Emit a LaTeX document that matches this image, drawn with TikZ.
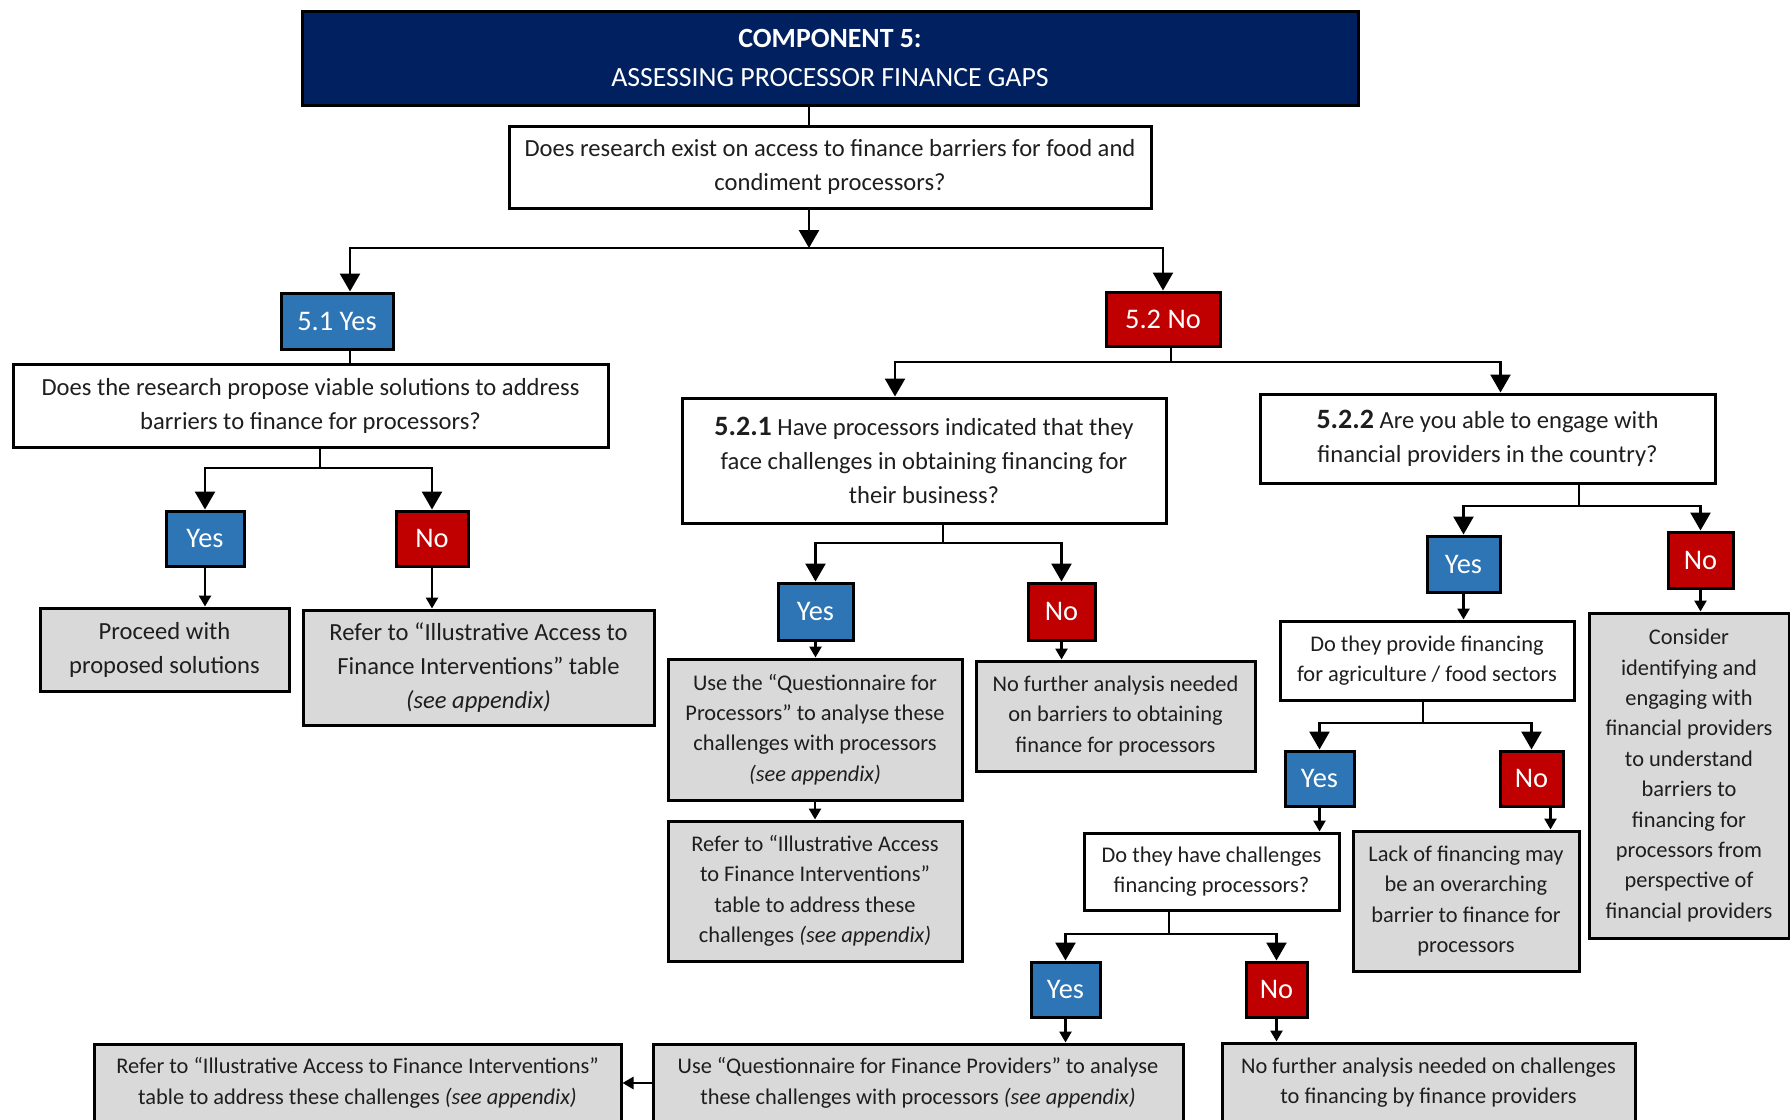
\documentclass[tikz,border=0pt]{standalone}
\usepackage{fontspec}
\setmainfont{Carlito}
\usetikzlibrary{arrows.meta,positioning,calc}
\definecolor{compnavy}{RGB}{0,32,96}
\definecolor{yesblue}{RGB}{46,117,182}
\definecolor{nored}{RGB}{192,0,0}
\definecolor{actgray}{RGB}{217,217,217}
\definecolor{txtdark}{RGB}{30,30,30}

\begin{document}
\begin{tikzpicture}[x=0.5pt, y=-0.5pt,
hdr/.style={draw=black, line width=1.5pt, fill=compnavy, text=white, inner sep=0pt,
align=center, font=\fontsize{13.9}{19.5}\selectfont},
qst/.style={draw=black, line width=1.5pt, fill=white, text=txtdark, inner sep=0pt,
align=center, font=\fontsize{12.3}{17}\selectfont},
qsts/.style={qst, font=\fontsize{11.2}{15.2}\selectfont},
act/.style={draw=black, line width=1.5pt, fill=actgray, text=txtdark, inner sep=0pt,
align=center, font=\fontsize{11.2}{15.2}\selectfont},
actl/.style={act, font=\fontsize{12.3}{17}\selectfont},
yesbox/.style={draw=black, line width=1.5pt, fill=yesblue, text=white, inner sep=0pt,
font=\fontsize{14.2}{16}\selectfont},
nobox/.style={yesbox, fill=nored},
link/.style={line width=1.3pt},
arrow/.style={-{Triangle[length=9pt,width=10pt]}, line width=1.3pt},
sarrow/.style={-{Triangle[length=5.5pt,width=6pt]}, line width=1.3pt}
]
\useasboundingbox (0,0) rectangle (1790,1120);

% header and first question
\node[hdr, minimum width=528pt, minimum height=47pt] (title) at (830,58)
{\textbf{COMPONENT 5:}\\ASSESSING PROCESSOR FINANCE GAPS};
\node[qst, minimum width=321pt, minimum height=41pt] (q1) at (830,167)
{Does research exist on access to finance barriers for food and\\condiment processors?};

\node[yesbox, minimum width=56pt, minimum height=28pt] (y51) at (337,321) {5.1 Yes};
\node[nobox, minimum width=57pt, minimum height=27pt] (n52) at (1163,319) {5.2 No};

% 5.1 branch
\node[qst, minimum width=297.5pt, minimum height=41.5pt] (q2) at (310.5,405.5)
{Does the research propose viable solutions to address\\barriers to finance for processors?};
\node[yesbox, minimum width=39pt, minimum height=27.5pt] (y1) at (205,538.5) {Yes};
\node[nobox, minimum width=36pt, minimum height=27.5pt] (n1) at (432,538.5) {No};
\node[actl, minimum width=124.5pt, minimum height=41.5pt] (proceed) at (164.5,649.5)
{Proceed with\\proposed solutions};
\node[actl, minimum width=175.5pt, minimum height=57.5pt] (refer1) at (478.5,667.5)
{Refer to “Illustrative Access to\\Finance Interventions” table\\\textit{(see appendix)}};

% 5.2.1 branch
\node[qst, minimum width=242pt, minimum height=62.5pt] (q521) at (924,460.5)
{{\fontsize{14}{17}\selectfont\bfseries 5.2.1} Have processors indicated that they\\face challenges in obtaining financing for\\their business?};
\node[yesbox, minimum width=37.5pt, minimum height=28.5pt] (y2) at (815.5,611.5) {Yes};
\node[nobox, minimum width=33.5pt, minimum height=28.5pt] (n2) at (1061.5,611.5) {No};
\node[act, minimum width=147pt, minimum height=70.5pt] (use1) at (815,729.5)
{Use the “Questionnaire for\\Processors” to analyse these\\challenges with processors\\\textit{(see appendix)}};
\node[act, minimum width=147pt, minimum height=70pt] (refer2) at (815,891)
{Refer to “Illustrative Access\\to Finance Interventions”\\table to address these\\challenges \textit{(see appendix)}};
\node[act, minimum width=139.5pt, minimum height=55pt] (nof1) at (1115.5,716)
{No further analysis needed\\on barriers to obtaining\\finance for processors};

% 5.2.2 branch
\node[qst, minimum width=227.5pt, minimum height=44.5pt] (q522) at (1487.5,438.5)
{{\fontsize{14}{17}\selectfont\bfseries 5.2.2} Are you able to engage with\\financial providers in the country?};
\node[yesbox, minimum width=36.5pt, minimum height=28pt] (y3) at (1463.5,564) {Yes};
\node[nobox, minimum width=32.5pt, minimum height=28pt] (n3) at (1700.5,560) {No};
\node[qsts, minimum width=147pt, minimum height=39.5pt] (agri) at (1427,660.5)
{Do they provide financing\\for agriculture / food sectors};
\node[act, minimum width=100pt, minimum height=162.5pt] (consider) at (1689,775.5)
{Consider\\identifying and\\engaging with\\financial providers\\to understand\\barriers to\\financing for\\processors from\\perspective of\\financial providers};
\node[yesbox, minimum width=34.5pt, minimum height=27.5pt] (y4) at (1319.5,778.5) {Yes};
\node[nobox, minimum width=31.5pt, minimum height=27.5pt] (n4) at (1531.5,778.5) {No};
\node[qsts, minimum width=127.5pt, minimum height=38.5pt] (chall) at (1211.5,871.5)
{Do they have challenges\\financing processors?};
\node[act, minimum width=113pt, minimum height=70pt] (lack) at (1466,901)
{Lack of financing may\\be an overarching\\barrier to finance for\\processors};
\node[yesbox, minimum width=34.5pt, minimum height=27.5pt] (y5) at (1065.5,989.5) {Yes};
\node[nobox, minimum width=30.5pt, minimum height=27.5pt] (n5) at (1276.5,989.5) {No};

% bottom row
\node[act, minimum width=265pt, minimum height=39pt] (useq) at (918,1083)
{Use “Questionnaire for Finance Providers” to analyse\\these challenges with processors \textit{(see appendix)}};
\node[act, minimum width=263.5pt, minimum height=39pt] (referb) at (357.5,1083)
{Refer to “Illustrative Access to Finance Interventions”\\table to address these challenges \textit{(see appendix)}};
\node[act, minimum width=206.5pt, minimum height=39.5pt] (nof2) at (1428.5,1082.5)
{No further analysis needed on challenges\\to financing by finance providers};

% junctions
\coordinate (j1) at (809,248);
\coordinate (j2) at (320,468);
\coordinate (j3) at (1171,362);
\coordinate (j4) at (943,543);
\coordinate (j5) at (1579,506);
\coordinate (j6) at (1423,723);
\coordinate (j7) at (1169,934);

\draw[link] (title.south -| j1) -- (q1.north -| j1);
\draw[arrow] (q1.south -| j1) -- (j1);
\draw[arrow] (j1) -| ([xshift=6.5pt]y51.north);
\draw[arrow] (j1) -| (n52.north);

\draw[link] ([xshift=6.5pt]y51.south) -- ([xshift=6.5pt]y51.south |- q2.north);
\draw[link] (q2.south -| j2) -- (j2);
\draw[arrow] (j2) -| (y1.north);
\draw[arrow] (j2) -| (n1.north);
\draw[sarrow] (y1.south) -- (y1.south |- proceed.north);
\draw[sarrow] (n1.south) -- (n1.south |- refer1.north);

\draw[link] (n52.south -| j3) -- (j3);
\draw[arrow] (j3) -| ([xshift=-14.5pt]q521.north);
\draw[arrow] (j3) -| ([xshift=6.5pt]q522.north);

\draw[link] (q521.south -| j4) -- (j4);
\draw[arrow] (j4) -| (y2.north);
\draw[arrow] (j4) -| (n2.north);
\draw[sarrow] (y2.south) -- (y2.south |- use1.north);
\draw[sarrow] (use1) -- (refer2);
\draw[sarrow] (n2.south) -- (n2.south |- nof1.north);

\draw[link] (q522.south -| j5) -- (j5);
\draw[arrow] (j5) -| (y3.north);
\draw[arrow] (j5) -| (n3.north);
\draw[sarrow] (y3.south) -- (y3.south |- agri.north);
\draw[sarrow] (n3.south) -- (n3.south |- consider.north);

\draw[link] (agri.south -| j6) -- (j6);
\draw[arrow] (j6) -| (y4.north);
\draw[arrow] (j6) -| (n4.north);
\draw[sarrow] (y4.south) -- (y4.south |- chall.north);
\draw[sarrow] ([xshift=9.5pt]n4.south) -- ([xshift=9.5pt]n4.south |- lack.north);

\draw[link] (chall.south -| j7) -- (j7);
\draw[arrow] (j7) -| (y5.north);
\draw[arrow] (j7) -| (n5.north);
\draw[sarrow] (y5.south) -- (y5.south |- useq.north);
\draw[sarrow] (n5.south) -- (n5.south |- nof2.north);
\draw[sarrow] (useq) -- (referb);

\end{tikzpicture}
\end{document}
